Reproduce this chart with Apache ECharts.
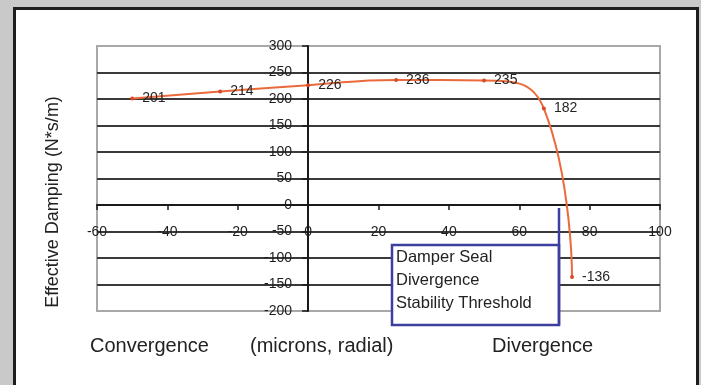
<!DOCTYPE html>
<html>
<head>
<meta charset="utf-8">
<script src="https://cdn.jsdelivr.net/npm/echarts@6/dist/echarts.min.js"></script>
<style>
  html, body { margin: 0; padding: 0; background: #c9c9c9; }
  #wrap { position: relative; width: 701px; height: 385px; overflow: hidden; background: #c9c9c9; }
  #panel { position: absolute; left: 13px; top: 7px; width: 680px; height: 390px; background: #fff; border: 3px solid #1e1e1e; }
  #chart { position: absolute; left: 0; top: 0; width: 701px; height: 385px; }
</style>
</head>
<body>
<div id="wrap">
  <div id="panel"></div>
  <div id="chart"></div>
</div>
<script>
// Data
var xValues = [-50, -25, 0, 25, 50, 67, 75];              // microns, radial
var dampingValues = [201, 214, 226, 236, 235, 182, -136]; // N*s/m
var xTicks = { min: -60, max: 100, interval: 20 };
var yTicks = { min: -200, max: 300, interval: 50 };
var yTitle = 'Effective Damping (N*s/m)';
var bottomLabels = ['Convergence', '(microns, radial)', 'Divergence'];
var boxLines = ['Damper Seal', 'Divergence', 'Stability Threshold'];

var font = '"Liberation Sans", Arial, sans-serif';
var seriesData = xValues.map(function (x, i) { return [x, dampingValues[i]]; });

var G = { left: 97, top: 46, width: 563, height: 265 };
// move the axes onto the zero lines of the other axis (through the scales)
var yAxisOffset = -G.width * (0 - xTicks.min) / (xTicks.max - xTicks.min);
var xAxisOffset = -G.height * (0 - yTicks.min) / (yTicks.max - yTicks.min);

// split lines: light at the ends (plot border), dark inside
var splitColors = [];
for (var v = yTicks.min; v <= yTicks.max; v += yTicks.interval) {
  splitColors.push((v === yTicks.min || v === yTicks.max) ? '#a8a8a8' : '#3a3a3a');
}

var chart = echarts.init(document.getElementById('chart'), null, { renderer: 'canvas' });
var option = {
  backgroundColor: 'transparent',
  animation: false,
  grid: { left: G.left, top: G.top, width: G.width, height: G.height, show: true, borderColor: '#a8a8a8', borderWidth: 2, backgroundColor: 'transparent' },
  xAxis: {
    type: 'value', min: xTicks.min, max: xTicks.max, interval: xTicks.interval,
    position: 'bottom', offset: xAxisOffset,
    axisLine: { onZero: false, lineStyle: { color: '#1a1a1a', width: 2 } },
    axisTick: { show: true, length: 5, lineStyle: { color: '#1a1a1a', width: 1.5 } },
    axisLabel: { margin: 20, color: '#1e1e1e', fontSize: 14, fontFamily: font },
    splitLine: { show: false }
  },
  yAxis: {
    type: 'value', min: yTicks.min, max: yTicks.max, interval: yTicks.interval,
    position: 'left', offset: yAxisOffset,
    axisLine: { onZero: false, lineStyle: { color: '#1a1a1a', width: 2 } },
    axisTick: { show: true, length: 6, lineStyle: { color: '#1a1a1a', width: 1.5 } },
    axisLabel: { margin: 16, color: '#1e1e1e', fontSize: 14, fontFamily: font },
    splitLine: { show: true, showMinLine: true, showMaxLine: true, lineStyle: { color: splitColors, width: 2 } }
  },
  series: [{
    type: 'line',
    data: seriesData,
    smooth: 0.5,
    symbol: 'circle',
    symbolSize: 4,
    lineStyle: { color: '#ea6a3c', width: 2 },
    itemStyle: { color: '#d94a26' },
    label: { show: true, position: 'right', distance: 8, color: '#252525', fontSize: 14, fontFamily: font,
      formatter: function (p) { return p.value[1]; } },
    z: 3
  }],
  graphic: [
    { type: 'text', x: 53, y: 202, rotation: Math.PI / 2, z: 10,
      style: { text: yTitle, fill: '#222', font: '18px ' + font, align: 'center', verticalAlign: 'middle' } },
    { type: 'text', z: 10, style: { text: bottomLabels[0], x: 90, y: 346, fill: '#222', font: '20px ' + font, verticalAlign: 'middle' } },
    { type: 'text', z: 10, style: { text: bottomLabels[1], x: 250, y: 346, fill: '#222', font: '20px ' + font, verticalAlign: 'middle' } },
    { type: 'text', z: 10, style: { text: bottomLabels[2], x: 492, y: 346, fill: '#222', font: '20px ' + font, verticalAlign: 'middle' } },
    { type: 'rect', z: 20, shape: { x: 392, y: 245, width: 167, height: 80 }, style: { fill: '#fff', stroke: '#3d3f9e', lineWidth: 2.5 } },
    { type: 'line', z: 21, shape: { x1: 559, y1: 208, x2: 559, y2: 325 }, style: { stroke: '#3d3f9e', lineWidth: 2.5 } },
    { type: 'text', z: 22, style: { text: boxLines.join('\n'), x: 396, y: 246, fill: '#222', font: '16.5px ' + font, lineHeight: 23 } }
  ]
};
chart.setOption(option);
</script>
</body>
</html>
